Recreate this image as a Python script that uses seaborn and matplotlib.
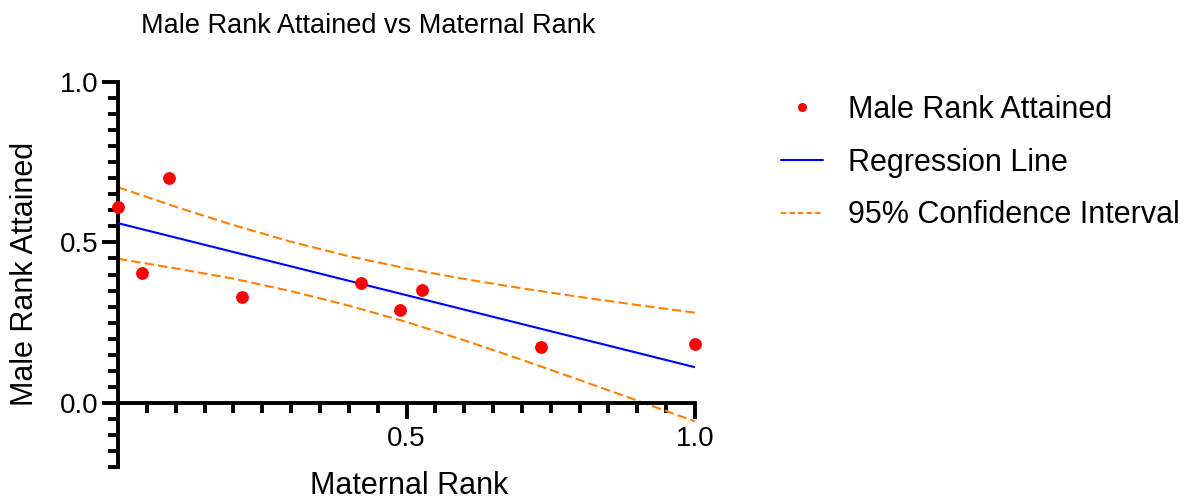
import matplotlib
matplotlib.use("Agg")
import matplotlib.pyplot as plt
import seaborn as sns
from matplotlib.ticker import MultipleLocator, FixedLocator
from matplotlib.lines import Line2D

# values
maternal_rank = [0.0, 0.042, 0.088, 0.215, 0.421, 0.488, 0.526, 0.733, 1.0]
male_rank = [0.611, 0.406, 0.702, 0.329, 0.373, 0.290, 0.352, 0.175, 0.183]

fit_x = [0.0, 1.0]
fit_y = [0.560, 0.111]

ci_x = [0.0, 0.1, 0.2, 0.3, 0.4, 0.5, 0.6, 0.7, 0.8, 0.9, 1.0]
ci_upper = [0.672, 0.611, 0.554, 0.502, 0.457, 0.419, 0.386, 0.357, 0.330, 0.305, 0.281]
ci_lower = [0.449, 0.419, 0.387, 0.348, 0.303, 0.252, 0.195, 0.134, 0.071, 0.007, -0.058]

x_major = [0.5, 1.0]
y_major = [0.0, 0.5, 1.0]

sns.set_style("ticks")
plt.rcParams["font.family"] = ["Liberation Sans", "DejaVu Sans"]
plt.rcParams["text.color"] = "black"

W, H = 1192, 501
fig = plt.figure(figsize=(W / 100, H / 100), dpi=100)
ax = fig.add_axes([118 / W, 1 - 467 / H, 577 / W, (467 - 82) / H])

red = "#ff0000"
blue = "#0000ff"
orange = "#ff8000"
dash = (0, (4.5, 2.0))

sns.lineplot(x=ci_x, y=ci_upper, ax=ax, color=orange, lw=1.5, ls=dash,
             errorbar=None, clip_on=False, zorder=2)
sns.lineplot(x=ci_x, y=ci_lower, ax=ax, color=orange, lw=1.5, ls=dash,
             errorbar=None, clip_on=False, zorder=2)
sns.lineplot(x=fit_x, y=fit_y, ax=ax, color=blue, lw=1.5,
             errorbar=None, zorder=3)
sns.scatterplot(x=maternal_rank, y=male_rank, ax=ax, color=red, s=85,
                linewidth=0, clip_on=False, zorder=4)

ax.set_xlim(0, 1)
ax.set_ylim(-0.2, 1.0)

for side in ["top", "right"]:
    ax.spines[side].set_visible(False)
ax.spines["bottom"].set_position(("data", 0))
for side in ["left", "bottom"]:
    ax.spines[side].set_linewidth(2.8)
    ax.spines[side].set_color("black")
    ax.spines[side].set_capstyle("projecting")

ax.xaxis.set_major_locator(FixedLocator(x_major))
ax.yaxis.set_major_locator(FixedLocator(y_major))
ax.xaxis.set_minor_locator(MultipleLocator(0.05))
ax.yaxis.set_minor_locator(MultipleLocator(0.05))
ax.set_xticklabels(["0.5", "1.0"])
ax.set_yticklabels(["0.0", "0.5", "1.0"])

ax.tick_params(which="major", length=11.5, width=2.8, labelsize=20,
               color="black", labelcolor="black")
ax.tick_params(which="minor", length=7, width=2.8, color="black")
ax.tick_params(axis="x", which="major", pad=5)
ax.tick_params(axis="y", which="major", pad=2.5)
ax.set_xlabel("")
ax.set_ylabel("")

fig.text(368 / W, 1 - 33 / H, "Male Rank Attained vs Maternal Rank",
         fontsize=19.5, ha="center", va="baseline")
fig.text(25 / W, 1 - 274 / H, "Male Rank Attained", fontsize=22,
         rotation=90, ha="center", va="center")
fig.text(409 / W, 0, "Maternal Rank", fontsize=22,
         ha="center", va="bottom")

handles = [
    Line2D([], [], ls="none", marker="o", color=red, markersize=6.5,
           markeredgewidth=0),
    Line2D([], [], color=blue, lw=1.5),
    Line2D([], [], color=orange, lw=1.5, ls=(0, (2.5, 1.6))),
]
labels = ["Male Rank Attained", "Regression Line", "95% Confidence Interval"]
fig.legend(handles, labels, loc="center left",
           bbox_to_anchor=(781 / W, 1 - 162.5 / H), frameon=False,
           fontsize=22, borderpad=0, borderaxespad=0, handlelength=1.38,
           handletextpad=0.8, labelspacing=0.75)

plt.savefig("out.png", dpi=100)
